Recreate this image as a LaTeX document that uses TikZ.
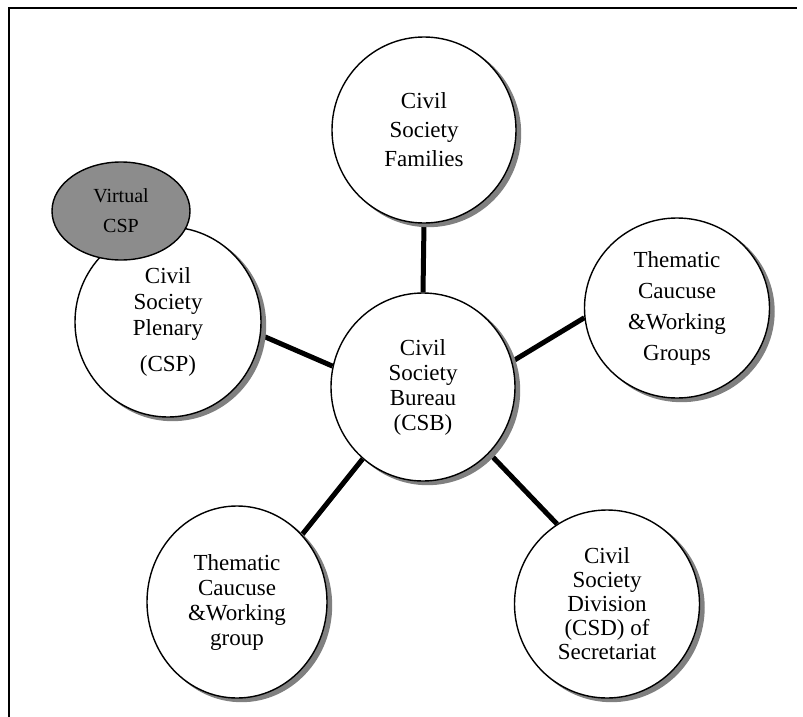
\documentclass[tikz,border=0pt]{standalone}
\usepackage{fontspec}
\setmainfont{Liberation Serif}
\usepackage{tikz}
\usetikzlibrary{shapes.geometric, backgrounds}

\begin{document}
\begin{tikzpicture}[
    x=1pt, y=-1pt,
    bubble/.style={ellipse, draw, line width=1.4pt, fill=white, inner sep=0pt, text centered, align=center,
        preaction={fill=black!50, draw=black!50, transform canvas={xshift=4.5pt, yshift=-3.5pt}}},
    virtual/.style={ellipse, draw, line width=1.4pt, fill=black!45, inner sep=0pt, align=center},
    link/.style={line width=5pt}
]
\useasboundingbox (0,0) rectangle (803,717);

% Frame
\draw [line width=1.6pt] (9,717) -- (9,8) -- (797,8);

% Centre
\node [bubble, minimum width=184pt, minimum height=188pt, font=\fontsize{23}{25}\selectfont] (csb) at (423,387) {Civil\\Society\\Bureau\\(CSB)};

% Outer circles
\node [bubble, minimum width=184pt, minimum height=186pt, font=\fontsize{23}{29}\selectfont] (families) at (424,130) {Civil\\Society\\Families};
\node [bubble, minimum width=185pt, minimum height=180pt, font=\fontsize{23}{31}\selectfont] (groups) at (677,308) {Thematic\\Caucuse\\\&Working\\Groups};
\node [bubble, minimum width=186pt, minimum height=190pt, font=\fontsize{23}{26}\selectfont] (plenary) at (168,322) {Civil\\Society\\Plenary\\[10pt](CSP)};
\node [bubble, minimum width=180pt, minimum height=192pt, font=\fontsize{23}{25}\selectfont] (group) at (237,602) {Thematic\\Caucuse\\\&Working\\group};
\node [bubble, minimum width=185pt, minimum height=188pt, font=\fontsize{23}{24}\selectfont] (csd) at (607,604) {Civil\\Society\\Division\\(CSD) of\\Secretariat};

% Virtual plenary on top
\node [virtual, minimum width=138pt, minimum height=98pt, font=\fontsize{20}{30}\selectfont] (vcsp) at (121,211) {Virtual\\CSP};

% Links
\begin{scope}[on background layer]
\draw [link] (families.south) -- (csb.north);
\draw [link] (plenary.-8) -- (csb.167);
\draw [link] (csb.16) -- (groups.186);
\draw [link] (csb.230) -- (group.46);
\draw [link] (csb.-45) -- (csd.122);
\end{scope}

\end{tikzpicture}
\end{document}
